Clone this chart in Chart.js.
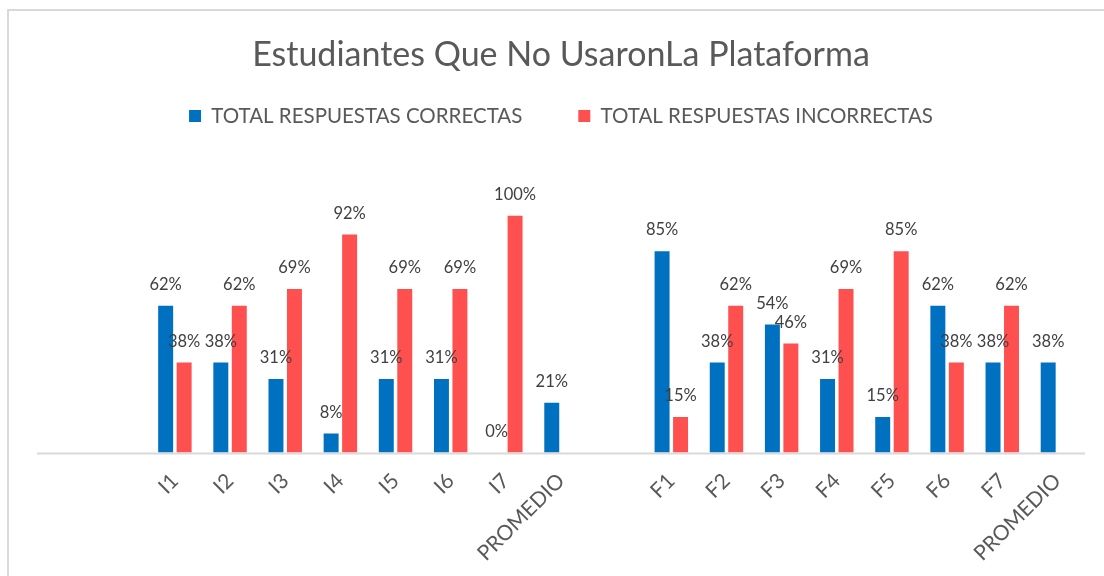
<!DOCTYPE html>
<html>
<head>
<meta charset="utf-8">
<script src="https://cdn.jsdelivr.net/npm/chart.js@4.4.1/dist/chart.umd.min.js"></script>
<style>
  html, body { margin: 0; padding: 0; background: #ffffff; }
  #wrap { position: relative; width: 1104px; height: 576px; overflow: hidden; }
  #frame { position: absolute; left: 7px; top: 9px; width: 1200px; height: 700px;
           border-left: 2px solid #d9d9d9; border-top: 2px solid #d9d9d9; pointer-events: none; }
  canvas { position: absolute; left: 0; top: 0; }
</style>
</head>
<body>
<div id="wrap">
  <canvas id="c" width="1104" height="576"></canvas>
  <div id="frame"></div>
</div>
<script>
const categories = ["", "", "I1", "I2", "I3", "I4", "I5", "I6", "I7", "PROMEDIO", "",
                    "F1", "F2", "F3", "F4", "F5", "F6", "F7", "PROMEDIO"];
const correctas   = [null, null, 62, 38, 31, 8, 31, 31, 0, 21, null,
                     85, 38, 54, 31, 15, 62, 38, 38];
const incorrectas = [null, null, 38, 62, 69, 92, 69, 69, 100, null, null,
                     15, 62, 46, 69, 85, 38, 62, null];
const seriesNames = ["TOTAL RESPUESTAS CORRECTAS", "TOTAL RESPUESTAS INCORRECTAS"];
const titleText = "Estudiantes Que No UsaronLa Plataforma";

const FONT = "Lato, 'Open Sans', sans-serif";
const TEXT = "#595959";

const baseLine = {
  id: 'baseLine',
  beforeDatasetsDraw(chart) {
    const {ctx, chartArea, scales} = chart;
    const y = scales.y.getPixelForValue(0);
    ctx.save();
    ctx.strokeStyle = '#d9d9d9';
    ctx.lineWidth = 2;
    ctx.beginPath();
    ctx.moveTo(chartArea.left, y + 1);
    ctx.lineTo(chartArea.right, y + 1);
    ctx.stroke();
    ctx.restore();
  }
};

const valueLabels = {
  id: 'valueLabels',
  afterDatasetsDraw(chart) {
    const ctx = chart.ctx;
    ctx.save();
    ctx.font = "16.5px " + FONT;
    ctx.fillStyle = "#404040";
    ctx.textAlign = "center";
    ctx.textBaseline = "middle";
    chart.data.datasets.forEach((ds, di) => {
      const meta = chart.getDatasetMeta(di);
      meta.data.forEach((bar, i) => {
        const v = ds.data[i];
        if (v === null || v === undefined) return;
        ctx.fillText(v + "%", bar.x, bar.y - 21);
      });
    });
    ctx.restore();
  }
};

new Chart(document.getElementById('c'), {
  type: 'bar',
  data: {
    labels: categories,
    datasets: [
      { label: seriesNames[0], data: correctas, backgroundColor: '#0070C0',
        categoryPercentage: 0.67, barPercentage: 0.81 },
      { label: seriesNames[1], data: incorrectas, backgroundColor: '#FF5050',
        categoryPercentage: 0.67, barPercentage: 0.81 }
    ]
  },
  options: {
    responsive: false,
    animation: false,
    devicePixelRatio: 1,
    layout: { padding: { left: 37, right: 19, top: 0, bottom: 2 } },
    plugins: {
      title: {
        display: true, text: titleText, color: TEXT,
        font: { family: FONT, size: 34, weight: 'normal' },
        padding: { top: 35, bottom: -26 }
      },
      legend: {
        display: true,
        labels: {
          color: TEXT, boxWidth: 12, boxHeight: 12, padding: 56,
          font: { family: FONT, size: 20.5 }
        }
      },
      tooltip: { enabled: false }
    },
    scales: {
      x: {
        grid: { display: false },
        border: { display: false },
        ticks: {
          color: TEXT, font: { family: FONT, size: 21 },
          minRotation: 45, maxRotation: 45, autoSkip: false, padding: 8
        }
      },
      y: {
        display: false,
        min: 0, max: 133.5
      }
    }
  },
  plugins: [baseLine, valueLabels]
});
</script>
</body>
</html>
